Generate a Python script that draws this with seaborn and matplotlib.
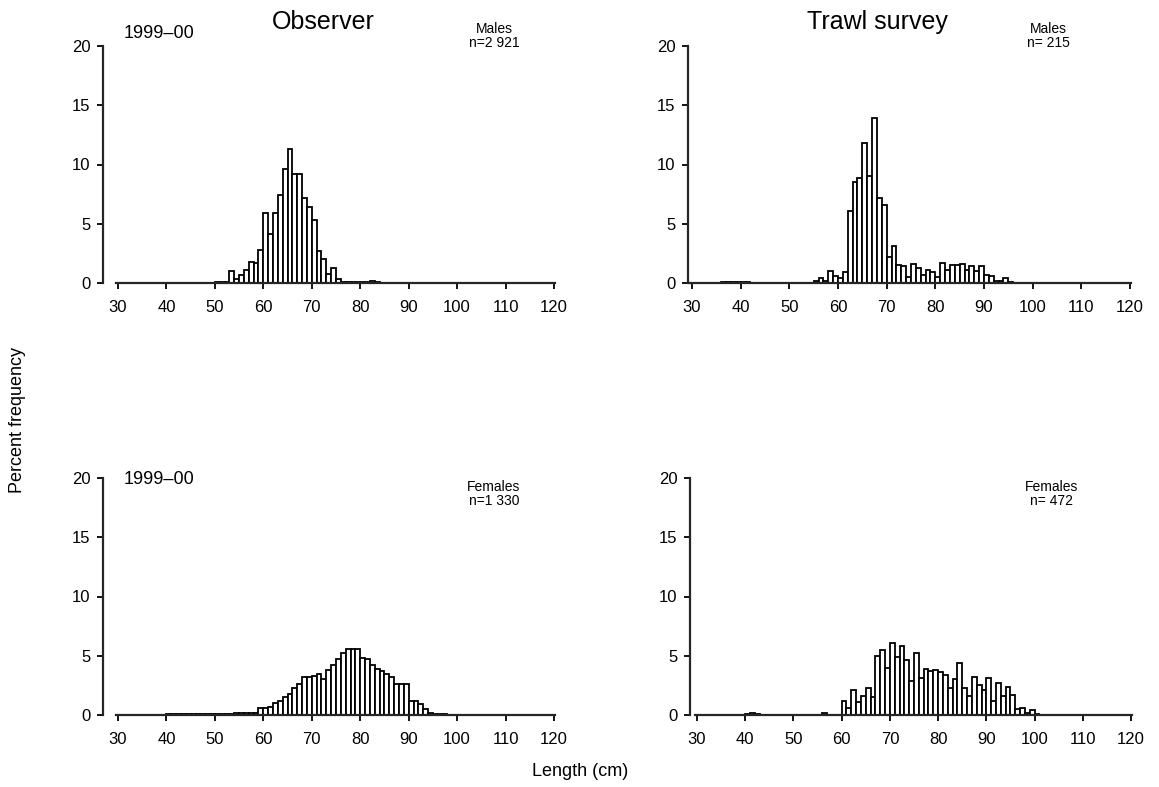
import numpy as np
import pandas as pd
import matplotlib
matplotlib.use('Agg')
import matplotlib.pyplot as plt
import seaborn as sns

# ---------------- data (percent frequency per 1-cm length class) -------------
lengths_ticks = [30, 40, 50, 60, 70, 80, 90, 100, 110, 120]
y_ticks = [0, 5, 10, 15, 20]

# Observer, males (first class = 50 cm)
obs_m_start = 50
obs_m = [0.05, 0.1, 0.1, 1.0, 0.3, 0.7, 1.1, 1.8, 1.7, 2.8,
         5.9, 4.1, 5.9, 7.4, 9.6, 11.3, 9.2, 9.2, 7.2, 6.4,
         5.3, 2.7, 2.0, 0.8, 1.3, 0.3, 0.1, 0.05, 0.05, 0.1,
         0.1, 0.05, 0.15, 0.1]

# Trawl survey, males (first class = 36 cm)
trw_m_start = 36
trw_m = [0.05, 0.1, 0.1, 0.1, 0.05, 0.05, 0, 0, 0, 0,
         0, 0, 0, 0, 0, 0, 0, 0, 0, 0.15,
         0.4, 0.2, 1.0, 0.6, 0.4, 0.9, 6.1, 8.5, 8.9, 11.8,
         9.0, 13.9, 7.2, 6.6, 2.2, 3.1, 1.5, 1.4, 0.5, 1.6,
         1.3, 0.7, 1.1, 0.9, 0.5, 1.7, 1.1, 1.55, 1.55, 1.6,
         1.1, 1.4, 1.0, 1.4, 0.7, 0.55, 0.2, 0.2, 0.4, 0.1]

# Observer, females (first class = 40 cm)
obs_f_start = 40
obs_f = [0.05, 0.05, 0.05, 0.05, 0.05, 0.05, 0.05, 0.05, 0.05, 0.05,
         0.1, 0.1, 0.1, 0.1, 0.15, 0.15, 0.2, 0.2, 0.2, 0.6,
         0.6, 0.7, 1.0, 1.2, 1.5, 1.8, 2.3, 2.6, 3.2, 3.2,
         3.3, 3.5, 3.0, 3.8, 4.2, 4.7, 5.2, 5.6, 5.6, 5.6,
         4.8, 4.7, 4.2, 3.9, 3.7, 3.5, 3.2, 2.6, 2.6, 2.6,
         1.2, 1.2, 0.9, 0.5, 0.2, 0.1, 0.05, 0.05]

# Trawl survey, females (first class = 40 cm)
trw_f_start = 40
trw_f = [0.1, 0.2, 0.1, 0, 0, 0, 0, 0, 0, 0,
         0, 0, 0, 0, 0, 0, 0.2, 0, 0, 0,
         1.2, 0.6, 2.1, 1.1, 1.6, 2.3, 1.5, 5.0, 5.5, 4.0,
         6.1, 4.9, 5.8, 4.6, 2.9, 5.2, 3.1, 3.9, 3.7, 3.8,
         3.6, 3.4, 2.3, 3.0, 4.4, 2.3, 1.6, 3.2, 2.5, 2.1,
         3.1, 1.2, 2.7, 1.6, 2.4, 1.7, 0.5, 0.6, 0.2, 0.4,
         0.1]

col_titles = ["Observer", "Trawl survey"]
season = "1999\u201300"
panel_labels = [["Males\nn=2 921", "Males\nn= 215"],
                ["Females\nn=1 330", "Females\nn= 472"]]

# ---------------- figure ------------------------------------------------------
sns.set_theme(style="ticks")
plt.rcParams['font.family'] = ['Liberation Sans', 'DejaVu Sans']
plt.rcParams['text.color'] = 'black'
plt.rcParams['axes.labelcolor'] = 'black'

W, H = 1159, 787
fig = plt.figure(figsize=(W / 100, H / 100), dpi=100)


def make_ax(x_spine, x30, x120, y20, y0):
    ppc = (x120 - x30) / 90.0
    left_cm = 30 - (x30 - x_spine) / ppc
    right_px = x120 + 6
    right_cm = 120 + 6 / ppc
    ax = fig.add_axes([x_spine / W, 1 - y0 / H, (right_px - x_spine) / W, (y0 - y20) / H])
    return ax, (left_cm, right_cm)


panels = [
    (make_ax(103, 118, 554, 46, 283), obs_m_start, obs_m),
    (make_ax(688, 692, 1130, 46, 283), trw_m_start, trw_m),
    (make_ax(103, 118, 554, 478, 715), obs_f_start, obs_f),
    (make_ax(690, 697, 1131, 478, 715), trw_f_start, trw_f),
]

for (ax, xl), start, vals in panels:
    df = pd.DataFrame({"length": np.arange(start, start + len(vals)) + 0.5,
                       "pct": np.asarray(vals, dtype=float)})
    sns.histplot(data=df, x="length", weights="pct", binwidth=1,
                 binrange=(start, start + len(vals)), ax=ax, stat="count",
                 color="white", edgecolor="black", linewidth=1.3, alpha=1)
    ax.set_xlabel("")
    ax.set_ylabel("")
    ax.set_xticks(lengths_ticks)
    ax.set_yticks(y_ticks)
    ax.tick_params(axis="both", direction="out", length=4, width=1.3,
                   labelsize=12, colors="black")
    ax.tick_params(axis="x", pad=8)
    ax.tick_params(axis="y", pad=5)
    for s in ["top", "right"]:
        ax.spines[s].set_visible(False)
    ax.spines["left"].set_linewidth(1.6)
    ax.spines["bottom"].set_linewidth(1.6)
    ax.spines["bottom"].set_bounds(29.6, 120.3)
    ax.set_xlim(*xl)
    ax.set_ylim(0, 20)

# column titles
fig.text(323 / W, 1 - 22 / H, col_titles[0], ha="center", va="center", fontsize=18)
fig.text(877 / W, 1 - 22 / H, col_titles[1], ha="center", va="center", fontsize=18)

# season labels
fig.text(124 / W, 1 - 33 / H, season, ha="left", va="center", fontsize=13)
fig.text(124 / W, 1 - 480 / H, season, ha="left", va="center", fontsize=13)

# sex / n labels
fig.text(494 / W, 1 - 36 / H, panel_labels[0][0], ha="center", va="center",
         fontsize=10, linespacing=1.0)
fig.text(1048 / W, 1 - 36 / H, panel_labels[0][1], ha="center", va="center",
         fontsize=10, linespacing=1.0)
fig.text(494 / W, 1 - 494 / H, panel_labels[1][0], ha="center", va="center",
         fontsize=10, linespacing=1.0)
fig.text(1052 / W, 1 - 494 / H, panel_labels[1][1], ha="center", va="center",
         fontsize=10, linespacing=1.0)

# axis titles
fig.text(18 / W, 1 - 420 / H, "Percent frequency", rotation=90, ha="center",
         va="center", fontsize=13)
fig.text(580 / W, 1 - 772 / H, "Length (cm)", ha="center", va="center", fontsize=13)

fig.savefig("out.png", dpi=100)
